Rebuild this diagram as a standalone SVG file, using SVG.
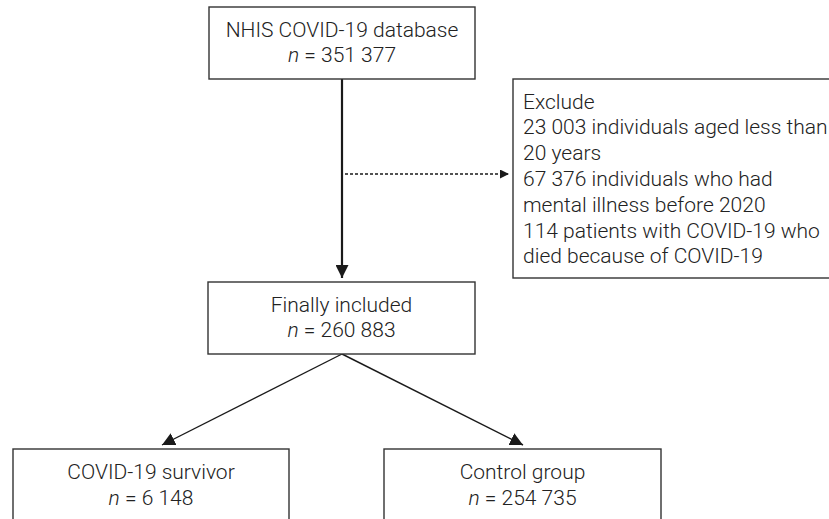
<svg xmlns="http://www.w3.org/2000/svg" width="829" height="519" viewBox="0 0 829 519">
  <defs>
    <style>
      .box { fill: #ffffff; stroke: #333333; stroke-width: 1.4; }
      .t { font-family: Roboto, "Liberation Sans", sans-serif; font-size: 21px; font-weight: 300; fill: #222222; }
      .c { text-anchor: middle; }
      .i { font-style: italic; }
      .ln { stroke: #1a1a1a; fill: none; }
    </style>
    <marker id="ah" markerUnits="userSpaceOnUse" markerWidth="14" markerHeight="13" refX="13" refY="6.5" orient="auto">
      <path d="M0,0 L13,6.5 L0,13 z" fill="#1a1a1a"/>
    </marker>
    <marker id="ahs" markerUnits="userSpaceOnUse" markerWidth="10" markerHeight="9" refX="9" refY="4.5" orient="auto">
      <path d="M0,0 L9,4.5 L0,9 z" fill="#1a1a1a"/>
    </marker>
  </defs>

  <g id="connectors">
    <line class="ln" x1="342" y1="79" x2="342" y2="278" stroke-width="2.2" marker-end="url(#ah)"/>
    <line class="ln" x1="345" y1="174" x2="509" y2="174" stroke-width="1.4" stroke-dasharray="3,2" marker-end="url(#ahs)"/>
    <line class="ln" x1="342" y1="354" x2="162" y2="445" stroke-width="1.4" marker-end="url(#ah)"/>
    <line class="ln" x1="342" y1="354" x2="523" y2="445" stroke-width="1.4" marker-end="url(#ah)"/>
  </g>

  <g id="node-database">
    <rect class="box" x="209" y="7" width="266" height="72"/>
    <text class="t c" x="342" y="36.7">NHIS COVID-19 database</text>
    <text class="t c" x="342" y="61.7"><tspan class="i">n</tspan> = 351 377</text>
  </g>

  <g id="node-exclude">
    <rect class="box" x="513" y="79" width="330" height="199"/>
    <text class="t" x="523" y="108.5">Exclude</text>
    <text class="t" x="523" y="134.3">23 003 individuals aged less than</text>
    <text class="t" x="523" y="160.1">20 years</text>
    <text class="t" x="523" y="185.9">67 376 individuals who had</text>
    <text class="t" x="523" y="211.7">mental illness before 2020</text>
    <text class="t" x="523" y="237.5">114 patients with COVID-19 who</text>
    <text class="t" x="523" y="263.3">died because of COVID-19</text>
  </g>

  <g id="node-included">
    <rect class="box" x="208" y="282" width="267" height="72"/>
    <text class="t c" x="341.5" y="312.3">Finally included</text>
    <text class="t c" x="341.5" y="337.3"><tspan class="i">n</tspan> = 260 883</text>
  </g>

  <g id="node-survivor">
    <rect class="box" x="13" y="449" width="276" height="80"/>
    <text class="t c" x="151" y="479.3">COVID-19 survivor</text>
    <text class="t c" x="151" y="505"><tspan class="i">n</tspan> = 6 148</text>
  </g>

  <g id="node-control">
    <rect class="box" x="384" y="449" width="277" height="80"/>
    <text class="t c" x="522.5" y="479.3">Control group</text>
    <text class="t c" x="522.5" y="505"><tspan class="i">n</tspan> = 254 735</text>
  </g>
</svg>
